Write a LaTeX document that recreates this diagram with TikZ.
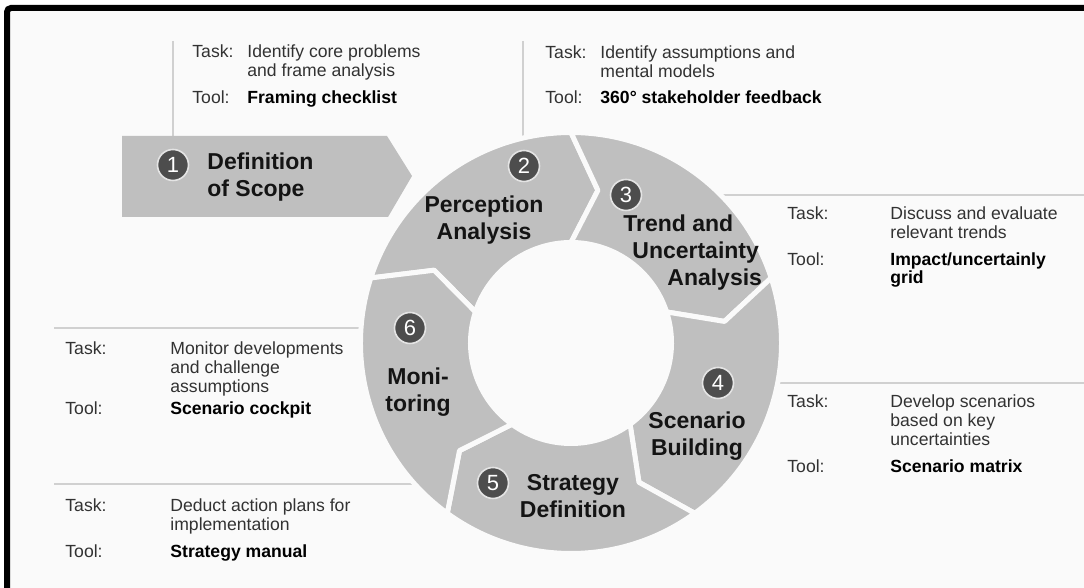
\documentclass[tikz,border=0pt]{standalone}
\usepackage{fontspec}
\setmainfont{Liberation Sans}
\usepackage{xcolor}
\usepackage{tikz}
\usetikzlibrary{positioning, calc}

\definecolor{segfill}{RGB}{191,191,191}
\definecolor{numfill}{RGB}{77,77,77}
\definecolor{numring}{RGB}{228,228,228}
\definecolor{bgfill}{RGB}{250,250,250}
\definecolor{rulegray}{RGB}{208,208,208}
\definecolor{keytext}{RGB}{50,50,50}
\definecolor{labeltext}{RGB}{20,20,20}

\begin{document}
\begin{tikzpicture}[x=0.5pt, y=0.5pt]
\tikzstyle{segment}=[fill=segfill, draw=bgfill, line width=2.5pt, line join=round]
\tikzstyle{stepnum}=[circle, fill=numfill, draw=numring, line width=0.8pt, text=white, minimum size=15.5pt, inner sep=0pt, font=\fontsize{11}{11}\selectfont]
\tikzstyle{phase}=[font=\fontsize{11.5}{13.5}\selectfont\bfseries, text=labeltext, align=center, inner sep=0pt]
\tikzstyle{tasklbl}=[font=\fontsize{8.8}{9.3}\selectfont, text=keytext, inner sep=0pt, anchor=base west]
\tikzstyle{taskdesc}=[tasklbl, align=left, anchor=north west, font=\fontsize{8.8}{9.4}\selectfont]
\tikzstyle{toolval}=[tasklbl, font=\fontsize{8.8}{9}\selectfont\bfseries, text=black]
\tikzstyle{rule}=[draw=rulegray, line width=0.75pt]

\useasboundingbox (0,0) rectangle (1084,588);
\fill[white] (0,0) rectangle (1084,588);
\fill[bgfill] (7,0) rectangle (1084,580);
\draw[line width=3pt, rounded corners=2pt] (7,-5) -- (7,580) -- (1090,580);

% separator rules
\coordinate (r1a) at (173,547); \coordinate (r1b) at (173,452);
\coordinate (r2a) at (523,547); \coordinate (r2b) at (523,445);
\coordinate (r3a) at (700,393); \coordinate (r3b) at (1084,393);
\coordinate (r4a) at (760,205); \coordinate (r4b) at (1084,205);
\coordinate (r6a) at (54,260);  \coordinate (r6b) at (380,260);
\coordinate (r5a) at (54,104);  \coordinate (r5b) at (440,104);
\draw[rule] (r1a) -- (r1b);
\draw[rule] (r2a) -- (r2b);
\draw[rule] (r3a) -- (r3b);
\draw[rule] (r4a) -- (r4b);
\draw[rule] (r6a) -- (r6b);
\draw[rule] (r5a) -- (r5b);

% ring of arrows
\begin{scope}[shift={(571,245)}]
\foreach \a in {162,90,18,-54,-126}
  \draw[segment] (\a:210.5) arc[start angle=\a, end angle=\a-72, radius=210.5]
    -- (\a-82:155) -- (\a-72:100.5) arc[start angle=\a-72, end angle=\a, radius=100.5]
    -- (\a-10:155) -- cycle;
\end{scope}

% step 1 arrow box
\fill[segfill] (122,452) -- (387,452) -- (412,412) -- (388,371) -- (122,371) -- cycle;

% phase labels
\node[phase, anchor=west, align=left] (lab1) at (207,410.5) {Definition\\of Scope};
\node[phase] (lab2) at (484,367.5) {Perception\\Analysis};
\node[phase, align=left, anchor=north west] (lab3) at (623,373.2) {Trend and\\\hspace*{4.5pt}Uncertainty\\\hspace*{22pt}Analysis};
\node[phase] (lab4) at (697,151.5) {Scenario\\Building};
\node[phase] (lab5) at (573,91.5) {Strategy\\Definition};
\node[phase] (lab6) at (418,195.5) {Moni-\\toring};

% step numbers
\node[stepnum] (n1) at (173,423) {1};
\node[stepnum] (n2) at (524,422) {2};
\node[stepnum] (n3) at (626,393) {3};
\node[stepnum] (n4) at (718,205) {4};
\node[stepnum] (n5) at (493,105) {5};
\node[stepnum] (n6) at (410,260) {6};

% task and tool notes
\node[tasklbl] (task1) at (192,530.7) {Task:};
\node[taskdesc] (desc1) at (247,543.4) {Identify core problems\\and frame analysis};
\node[tasklbl] (tool1) at (192,484.7) {Tool:};
\node[toolval] (val1) at (247,484.7) {Framing checklist};

\node[tasklbl] (task2) at (545,529.7) {Task:};
\node[taskdesc] (desc2) at (600,542.4) {Identify assumptions and\\mental models};
\node[tasklbl] (tool2) at (545,484.7) {Tool:};
\node[toolval] (val2) at (600,484.7) {360° stakeholder feedback};

\node[tasklbl] (task3) at (787,368.7) {Task:};
\node[taskdesc] (desc3) at (890,381.4) {Discuss and evaluate\\relevant trends};
\node[tasklbl] (tool3) at (787,322.7) {Tool:};
\node[toolval, align=left, anchor=north west] (val3) at (890,335.4) {Impact/uncertainly\\grid};

\node[tasklbl] (task4) at (787,180.7) {Task:};
\node[taskdesc] (desc4) at (890,193.4) {Develop scenarios\\based on key\\uncertainties};
\node[tasklbl] (tool4) at (787,115.7) {Tool:};
\node[toolval] (val4) at (890,115.7) {Scenario matrix};

\node[tasklbl] (task6) at (65,233.7) {Task:};
\node[taskdesc] (desc6) at (170,246.4) {Monitor developments\\and challenge\\assumptions};
\node[tasklbl] (tool6) at (65,173.7) {Tool:};
\node[toolval] (val6) at (170,173.7) {Scenario cockpit};

\node[tasklbl] (task5) at (65,76.7) {Task:};
\node[taskdesc] (desc5) at (170,89.4) {Deduct action plans for\\implementation};
\node[tasklbl] (tool5) at (65,30.7) {Tool:};
\node[toolval] (val5) at (170,30.7) {Strategy manual};

\end{tikzpicture}
\end{document}
